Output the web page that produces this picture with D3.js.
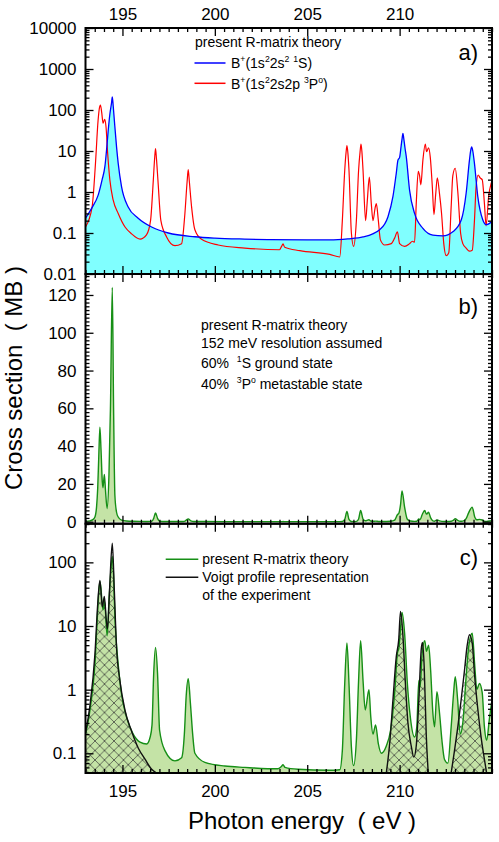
<!DOCTYPE html>
<html><head><meta charset="utf-8">
<script src="https://cdn.jsdelivr.net/npm/d3@7"></script>
<style>
body{margin:0;background:#fff}
text{font-family:"Liberation Sans",Arial,Helvetica,sans-serif;white-space:pre}
</style>
</head><body><svg id="chart" width="499" height="842"></svg>
<script>
// ---------------- data ----------------
const xMajorTicks = [195, 200, 205, 210];
const yTicksA = [0.01, 0.1, 1, 10, 100, 1000, 10000];
const yLabelsA = ["0.01", "0.1", "1", "10", "100", "1000", "10000"];
const yTicksB = [0, 20, 40, 60, 80, 100, 120];
const yTicksC = [0.1, 1, 10, 100];
const yLabelsC = ["0.1", "1", "10", "100"];

// panel a: B+(1s2 2s2 1S)  [eV, MB]
const blue1S = [
  [193,0.23],[193.33,0.4],[193.69,0.85],[193.9,2],[194.05,4.2],[194.15,12],[194.23,32],
  [194.32,80],[194.41,150],[194.45,210],[194.5,125],[194.56,57],[194.68,12.6],[194.77,5],
  [194.95,1.35],[195.31,0.43],
  [195.85,0.23],[196.58,0.14],[197.48,0.1],[198.92,0.081],[200,0.075],[201.62,0.071],
  [203,0.069],[205,0.068],[206.22,0.068],[207.2,0.072],[208.02,0.08],[208.92,0.12],
  [209.37,0.25],[209.64,0.78],[209.82,2.9],[209.91,6],[210.0,7],[210.08,13],[210.14,21],
  [210.18,27],[210.22,21],[210.29,12],[210.36,7.3],[210.54,1.1],[210.81,0.3],[211.26,0.13],
  [211.8,0.089],[212.34,0.085],[212.88,0.107],[213.34,0.21],[213.6,0.93],[213.78,6],
  [213.85,10.5],[213.9,12.6],[213.96,10],[214.05,5],[214.23,0.78],[214.5,0.21],[214.68,0.16],
  [215,0.19]
];
// panel a: B+(1s2 2s2p 3P°)
const red3P = [
  [193,0.14],[193.36,0.44],[193.54,5],[193.68,55],[193.75,110],[193.81,132],[193.88,85],
  [193.95,48],[194.04,59],
  [194.11,39],[194.2,8.7],[194.32,1.95],[194.5,0.63],[194.77,0.3],[195.14,0.14],[195.5,0.095],
  [195.95,0.071],[196.3,0.09],[196.52,0.2],[196.67,1.95],[196.74,6.5],[196.79,11.5],
  [196.84,6.5],[196.92,1.95],
  [197.08,0.2],[197.39,0.08],[197.84,0.049],[198.2,0.055],[198.38,0.3],[198.5,1.8],
  [198.56,3.5],[198.62,1.8],
  [198.74,0.44],[198.92,0.12],[199.28,0.07],[200.18,0.051],[201.62,0.043],[203.5,0.039],
  [203.62,0.048],[203.69,0.054],[203.78,0.045],[204.6,0.037],[206.22,0.03],[206.76,0.026],
  [206.9,0.2],[207.03,3.4],[207.1,9],[207.15,13.5],[207.2,9],[207.26,3.4],[207.39,0.1],
  [207.51,0.047],
  [207.66,0.2],[207.78,3.4],[207.86,9.5],[207.91,14.7],[207.96,9.5],[208.02,3.4],[208.16,0.2],
  [208.25,0.6],
  [208.36,2.3],[208.47,0.5],[208.56,0.2],[208.67,0.4],[208.74,0.52],[208.85,0.2],
  [208.96,0.068],[209.19,0.051],[209.55,0.055],[209.73,0.075],[209.88,0.107],[210.0,0.055],
  [210.27,0.047],[210.54,0.055],[210.69,0.063],[210.81,0.06],[210.9,0.52],[211.01,3.2],
  [211.08,2.5],[211.15,1.5],[211.26,6],[211.39,14.7],[211.46,9.6],[211.57,12],[211.66,7],
  [211.77,1.35],[211.86,0.28],[211.95,0.85],[212.04,2.2],[212.16,0.9],[212.27,0.3],
  [212.39,0.055],[212.52,0.028],[212.66,0.033],[212.79,0.44],[212.88,2.5],[213.01,3.8],
  [213.15,1],[213.3,0.1],[213.42,0.055],[213.6,0.043],[213.78,0.036],[213.93,0.038],
  [214.05,0.2],[214.14,1.35],[214.25,2.6],[214.36,2.2],[214.47,2],[214.59,0.52],
  [214.68,0.15],[214.82,0.8],[214.95,1.6],[215,1.9]
];
// panels b, c: theory convoluted, 60% 1S + 40% 3P°
const greenTheory = [
  [193,0.195],[193.24,0.47],[193.4,1.1],[193.51,2.5],[193.6,8],[193.66,17.6],[193.72,35],
  [193.78,50],[193.84,38],[193.91,21],[193.95,18],[194.02,25],[194.08,17],[194.17,7],
  [194.27,25],[194.35,60],[194.45,124],[194.52,60],[194.59,14],[194.68,5],[194.77,2.5],
  [194.95,0.85],[195.22,0.37],[195.58,0.2],[195.95,0.15],[196.31,0.14],[196.5,0.18],
  [196.6,0.28],[196.69,1.77],[196.79,4.6],[196.9,1.77],[197.01,0.23],[197.3,0.11],
  [197.84,0.076],[198.2,0.085],[198.35,0.2],[198.45,0.8],[198.56,1.48],[198.68,0.6],
  [198.8,0.2],[198.92,0.1],[199.46,0.072],[200.54,0.063],[201.62,0.06],[203.4,0.057],
  [203.6,0.062],[203.69,0.066],[203.8,0.06],[204.5,0.056],[206.22,0.054],[206.76,0.055],
  [206.9,0.11],[207.03,1.25],[207.15,5.4],[207.26,1.25],[207.39,0.126],[207.51,0.064],
  [207.66,0.16],[207.78,1.4],[207.89,5.9],[208.02,1.4],[208.14,0.48],[208.34,1.0],
  [208.44,0.37],[208.56,0.2],[208.7,0.28],[208.85,0.14],[209.01,0.1],[209.28,0.13],
  [209.51,0.23],[209.73,0.87],[209.88,3.7],[209.96,4.5],[210.05,9],[210.13,16.3],
  [210.27,7.7],[210.42,1.25],[210.58,0.37],[210.81,0.18],[210.93,0.26],[211.04,1.4],
  [211.11,1.1],[211.22,3.7],[211.36,5.9],[211.45,4],[211.57,5],[211.68,2],[211.8,0.43],
  [211.89,0.26],[212.02,0.93],[212.16,0.43],[212.29,0.16],[212.43,0.08],[212.61,0.07],
  [212.79,0.26],[212.92,0.87],[213.01,1.6],[213.14,0.7],[213.28,0.2],[213.42,0.3],
  [213.6,1.6],[213.74,4.8],[213.93,7.7],[214.07,2.3],[214.18,1.0],[214.32,1.25],
  [214.47,0.9],[214.59,0.26],[214.71,0.16],[214.86,0.35],[215,0.7]
];
// panel c: Voigt profile representation of the experiment (three groups)
const voigtA = [
  [193,0.21],[193.24,0.56],[193.51,3.6],[193.66,22],[193.78,52],[193.91,20],[194.02,29],
  [194.13,12],[194.19,9],[194.3,36],[194.45,200],[194.56,36],[194.68,4.6],[194.86,1.4],
  [195.14,0.47],[195.5,0.22],[195.86,0.12],[196.22,0.081],[196.58,0.056],[196.85,0.049]
];
const voigtB = [
  [209.28,0.049],[209.46,0.14],[209.64,0.69],[209.82,3.3],[209.95,6],[210.05,17],[210.18,7],
  [210.31,1.3],[210.45,0.3],[210.63,0.13],[210.77,0.087],[210.9,0.13],[211.04,0.69],
  [211.17,4.3],[211.24,5.5],[211.33,2.3],[211.44,0.2],[211.55,0.049]
];
const voigtC = [
  [212.79,0.049],[212.97,0.11],[213.15,0.26],[213.33,0.69],[213.51,2],[213.65,4.8],
  [213.78,7.3],[213.93,5.4],[214.05,1.8],[214.23,0.5],[214.41,0.18],[214.59,0.08],[214.71,0.049]
];

// ---------------- layout ----------------
const L = 85.5, R = 492;
const TA = 28, BA = 274, BB = 523.7, BC = 773;
const svg = d3.select("#chart");
const x = d3.scaleLinear().domain([193, 215]).range([L, R]);
const ya = d3.scaleLog().domain([0.01, 10000]).range([BA, TA]);
const yb = d3.scaleLinear().domain([-1.06, 131.1]).range([BB, BA]);
const yc = d3.scaleLog().domain([0.049, 405]).range([BC, BB]);

const defs = svg.append("defs");
[["clipA", TA, BA], ["clipB", BA, BB], ["clipC", BB, BC]].forEach(([id, t, b]) => {
  defs.append("clipPath").attr("id", id).append("rect")
    .attr("x", L).attr("y", t).attr("width", R - L).attr("height", b - t);
});
const HT = 9.5;
const pat = defs.append("pattern").attr("id", "hatch")
  .attr("patternUnits", "userSpaceOnUse").attr("width", HT).attr("height", HT);
pat.append("path").attr("d", `M0,0L${HT},${HT}M${HT},0L0,${HT}`)
  .attr("stroke", "#333").attr("stroke-width", 0.7).attr("fill", "none");

const lineGen = (ys) => d3.line().x(d => x(d[0])).y(d => ys(d[1])).curve(d3.curveMonotoneX);
const areaGen = (ys, base) => d3.area().x(d => x(d[0])).y0(base).y1(d => ys(d[1])).curve(d3.curveMonotoneX);

// ---------- panel a ----------
const gA = svg.append("g").attr("clip-path", "url(#clipA)");
gA.append("path").datum(blue1S).attr("d", areaGen(ya, BA)).attr("fill", "#80ffff");
gA.append("path").datum(red3P).attr("d", lineGen(ya)).attr("fill", "none").attr("stroke", "#ff0000").attr("stroke-width", 1.2);
gA.append("path").datum(blue1S).attr("d", lineGen(ya)).attr("fill", "none").attr("stroke", "#0000ff").attr("stroke-width", 1.3);

// ---------- panel b ----------
const gB = svg.append("g").attr("clip-path", "url(#clipB)");
gB.append("path").datum(greenTheory).attr("d", areaGen(yb, yb(0))).attr("fill", "#c4e3a6");
gB.append("path").datum(greenTheory).attr("d", lineGen(yb)).attr("fill", "none").attr("stroke", "#168f16").attr("stroke-width", 1.4);

// ---------- panel c ----------
const gC = svg.append("g").attr("clip-path", "url(#clipC)");
gC.append("path").datum(greenTheory).attr("d", areaGen(yc, BC)).attr("fill", "#c4e3a6");
[voigtA, voigtB, voigtC].forEach(v => {
  gC.append("path").datum(v).attr("d", areaGen(yc, BC)).attr("fill", "url(#hatch)");
});
gC.append("path").datum(greenTheory).attr("d", lineGen(yc)).attr("fill", "none").attr("stroke", "#168f16").attr("stroke-width", 1.4);
[voigtA, voigtB, voigtC].forEach(v => {
  gC.append("path").datum(v).attr("d", lineGen(yc)).attr("fill", "none").attr("stroke", "#111").attr("stroke-width", 1.4);
});

// ---------------- axes ----------------
const minorX = d3.range(193, 215.001, 0.5).filter(v => !xMajorTicks.includes(v));
const logMinor = (lo, hi) => {
  const out = [];
  for (let e = -3; e <= 4; e++) for (let m = 2; m <= 9; m++) {
    const v = m * Math.pow(10, e);
    if (v > lo && v < hi) out.push(v);
  }
  return out;
};
const linMinorB = d3.range(0, 131, 2).filter(v => v % 20 !== 0);

function styleAxis(g) {
  g.select(".domain").remove();
  g.selectAll("line").attr("stroke", "#000").attr("stroke-width", 1.3);
  g.selectAll("text").attr("font-size", 17).attr("fill", "#000")
    .attr("font-family", '"Liberation Sans",Arial,Helvetica,sans-serif');
}
function addAxis(axis, tx, ty) {
  svg.append("g").attr("transform", `translate(${tx},${ty})`).call(axis).call(styleAxis);
}

function panelAxes(top, bottom, ys, majorY, minorY, labelsY, showTop, showBottom) {
  addAxis(d3.axisBottom(x).tickValues(minorX).tickSize(-4).tickFormat(""), 0, bottom);
  addAxis(d3.axisBottom(x).tickValues(xMajorTicks).tickSize(-8).tickPadding(11.6)
    .tickFormat(showBottom ? d3.format("d") : ""), 0, bottom);
  addAxis(d3.axisTop(x).tickValues(minorX).tickSize(-4).tickFormat(""), 0, top);
  addAxis(d3.axisTop(x).tickValues(xMajorTicks).tickSize(-8).tickPadding(8)
    .tickFormat(showTop ? d3.format("d") : ""), 0, top);
  addAxis(d3.axisLeft(ys).tickValues(minorY).tickSize(-4).tickFormat(""), L, 0);
  addAxis(d3.axisLeft(ys).tickValues(majorY).tickSize(-8).tickPadding(9)
    .tickFormat((d, i) => labelsY[i]), L, 0);
  addAxis(d3.axisRight(ys).tickValues(minorY).tickSize(-4).tickFormat(""), R, 0);
  addAxis(d3.axisRight(ys).tickValues(majorY).tickSize(-8).tickFormat(""), R, 0);
  svg.append("rect").attr("x", L).attr("y", top).attr("width", R - L).attr("height", bottom - top)
    .attr("fill", "none").attr("stroke", "#000").attr("stroke-width", 2);
}
panelAxes(TA, BA, ya, yTicksA, logMinor(0.01, 10000), yLabelsA, true, false);
panelAxes(BA, BB, yb, yTicksB, linMinorB, yTicksB.map(String), false, false);
panelAxes(BB, BC, yc, yTicksC, logMinor(0.049, 405), yLabelsC, false, true);

// ---------------- texts ----------------
function rich(xx, yy, parts, size) {
  const t = svg.append("text").attr("x", xx).attr("y", yy).attr("font-size", size).attr("fill", "#000");
  let up = false;
  parts.forEach(p => {
    const sup = Array.isArray(p);
    const s = t.append("tspan").text(sup ? p[0] : p);
    if (sup) {
      s.attr("font-size", size * 0.62);
      if (!up) { s.attr("dy", -6); up = true; }
    } else if (up) { s.attr("dy", 6); up = false; }
  });
  return t;
}

// panel a legend
rich(195, 47, ["present R-matrix theory"], 14);
svg.append("line").attr("x1", 194.5).attr("x2", 225.5).attr("y1", 63).attr("y2", 63).attr("stroke", "#0000ff").attr("stroke-width", 1.5);
rich(231, 68, ["B", ["+"], "(1s", ["2"], "2s", ["2"], " ", ["1"], "S)"], 14);
svg.append("line").attr("x1", 194.5).attr("x2", 225.5).attr("y1", 83.3).attr("y2", 83.3).attr("stroke", "#ff0000").attr("stroke-width", 1.5);
rich(231, 88.5, ["B", ["+"], "(1s", ["2"], "2s2p ", ["3"], "P", ["o"], ")"], 14);
svg.append("text").attr("x", 478).attr("y", 60).attr("text-anchor", "end").attr("font-size", 22).text("a)");

// panel b text
rich(201, 330, ["present R-matrix theory"], 14);
rich(201, 348, ["152 meV resolution assumed"], 14);
rich(201, 368, ["60%  ", ["1"], "S ground state"], 14);
rich(201, 389, ["40%  ", ["3"], "P", ["o"], " metastable state"], 14);
svg.append("text").attr("x", 478).attr("y", 314).attr("text-anchor", "end").attr("font-size", 22).text("b)");

// panel c legend
svg.append("line").attr("x1", 165.7).attr("x2", 198.3).attr("y1", 559.3).attr("y2", 559.3).attr("stroke", "#168f16").attr("stroke-width", 1.5);
rich(202.3, 564, ["present R-matrix theory"], 14);
svg.append("line").attr("x1", 165.7).attr("x2", 198.3).attr("y1", 577.3).attr("y2", 577.3).attr("stroke", "#111").attr("stroke-width", 1.5);
rich(202.3, 582, ["Voigt profile representation"], 14);
rich(202.3, 599.5, ["of the experiment"], 14);
svg.append("text").attr("x", 478).attr("y", 565).attr("text-anchor", "end").attr("font-size", 22).text("c)");

// axis titles
svg.append("text").attr("transform", "translate(22,378) rotate(-90)").attr("text-anchor", "middle")
  .attr("font-size", 24).text("Cross section  ( MB )");
svg.append("text").attr("x", 302).attr("y", 829).attr("text-anchor", "middle")
  .attr("font-size", 24).text("Photon energy  ( eV )");
</script>
</body></html>
